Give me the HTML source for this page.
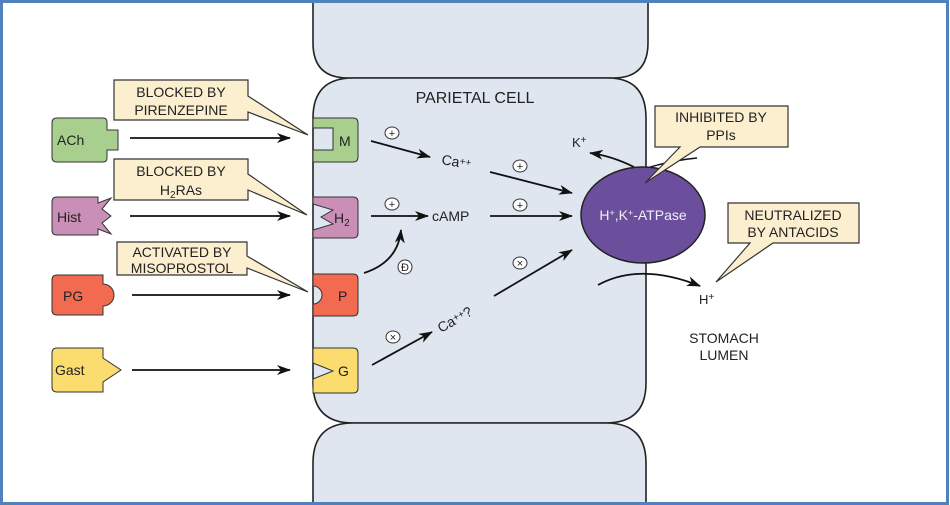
<!DOCTYPE html>
<html><head><meta charset="utf-8"><style>
html,body{margin:0;padding:0;background:#fff;}
svg{display:block;}
text{font-family:"Liberation Sans",Arial,sans-serif;fill:#222;}
</style></head><body>
<svg width="950" height="505" viewBox="0 0 950 505" xmlns="http://www.w3.org/2000/svg">
<defs>
<marker id="ah" markerWidth="14" markerHeight="10" refX="13" refY="5" orient="auto" markerUnits="userSpaceOnUse">
<path d="M0,0 L14,5 L0,10 L4,5 Z" fill="#111"/></marker>
</defs>
<rect x="0" y="0" width="950" height="505" fill="#fff"/>
<!-- cells -->
<path d="M313,-10 L313,43 Q313,78 348,78 L613,78 Q648,78 648,43 L648,-10 Z" fill="#dfe6f0" stroke="#222" stroke-width="1.6"/>
<path d="M353,78 L608,78 Q646,78 646,118 L646,383 Q646,423 606,423 L353,423 Q313,423 313,383 L313,118 Q313,78 353,78 Z" fill="#dfe6f0" stroke="#222" stroke-width="1.6"/>
<path d="M353,423 L606,423 Q646,423 646,463 L646,515 L313,515 L313,463 Q313,423 353,423 Z" fill="#dfe6f0" stroke="#222" stroke-width="1.6"/>
<text x="475" y="103" font-size="16" text-anchor="middle">PARIETAL CELL</text>

<!-- receptors -->
<path d="M313,118 h40 q5,0 5,5 v34 q0,5 -5,5 h-40 v-12 h20 v-22 h-20 Z" fill="#a9cf8e" stroke="#333" stroke-width="1"/>
<text x="339" y="146" font-size="14">M</text>
<path d="M313,197 h40 q5,0 5,5 v31 q0,5 -5,5 h-40 v-8 l20,-6 l-12,-7 l12,-7 l-20,-6 Z" fill="#c98fb6" stroke="#333" stroke-width="1"/>
<text x="334" y="223" font-size="14">H<tspan font-size="10" dy="3">2</tspan></text>
<path d="M313,274 h40 q5,0 5,5 v32 q0,5 -5,5 h-40 v-12 a9,9 0 0 0 0,-18 Z" fill="#f26a4f" stroke="#333" stroke-width="1"/>
<text x="338" y="301" font-size="14">P</text>
<path d="M313,348 h40 q5,0 5,5 v35 q0,5 -5,5 h-40 v-14 l20,-8 l-20,-8 Z" fill="#fbdc6f" stroke="#333" stroke-width="1"/>
<text x="338" y="376" font-size="14">G</text>

<!-- ligands -->
<path d="M57,118 h46 q4,0 4,4 v8 h11 v20 h-11 v8 q0,4 -4,4 h-46 q-5,0 -5,-5 v-34 q0,-5 5,-5 Z" fill="#a9cf8e" stroke="#333" stroke-width="1"/>
<text x="57" y="145" font-size="14">ACh</text>
<path d="M57,197 h41 v6 l13,-5 l-9,11 l9,7 l-9,7 l9,11 l-13,-5 v6 h-41 q-5,0 -5,-5 v-28 q0,-5 5,-5 Z" fill="#c98fb6" stroke="#333" stroke-width="1"/>
<text x="57" y="222" font-size="14">Hist</text>
<path d="M57,275 h46 v9 a11,11 0 0 1 0,22 v9 h-46 q-5,0 -5,-5 v-30 q0,-5 5,-5 Z" fill="#f26a4f" stroke="#333" stroke-width="1"/>
<text x="63" y="301" font-size="14">PG</text>
<path d="M57,348 h46 v10 l18,12 l-18,12 v10 h-46 q-5,0 -5,-5 v-34 q0,-5 5,-5 Z" fill="#fbdc6f" stroke="#333" stroke-width="1"/>
<text x="55" y="375" font-size="14">Gast</text>

<!-- ligand arrows -->
<g stroke="#111" stroke-width="1.8" fill="none" marker-end="url(#ah)">
<line x1="130" y1="138" x2="290" y2="138"/>
<line x1="130" y1="216" x2="290" y2="216"/>
<line x1="132" y1="295" x2="290" y2="295"/>
<line x1="132" y1="370" x2="290" y2="370"/>
</g>

<!-- callouts -->
<g fill="#fcefd0" stroke="#333" stroke-width="1.2">
<path d="M114,80 H248 V96 L308,135 L248,112 V120 H114 Z"/>
<path d="M114,159 H248 V174 L307,215 L248,190 V200 H114 Z"/>
<path d="M117,242 H247 V256 L308,292 L247,268 V275 H117 Z"/>
</g>
<g font-size="14" text-anchor="middle">
<text x="181" y="97">BLOCKED BY</text><text x="181" y="115">PIRENZEPINE</text>
<text x="181" y="176">BLOCKED BY</text><text x="181" y="195">H<tspan font-size="10" dy="3">2</tspan><tspan dy="-3">RAs</tspan></text>
<text x="182" y="257">ACTIVATED BY</text><text x="182" y="273">MISOPROSTOL</text>
</g>

<!-- intracellular -->
<g stroke="#111" stroke-width="1.8" fill="none" marker-end="url(#ah)">
<line x1="371" y1="141" x2="430" y2="157"/>
<line x1="490" y1="172" x2="572" y2="193"/>
<line x1="371" y1="216" x2="428" y2="216"/>
<line x1="490" y1="216" x2="572" y2="216"/>
<path d="M364,273 Q398,262 401,230"/>
<line x1="372" y1="365" x2="432" y2="332"/>
<line x1="494" y1="296" x2="572" y2="250"/>
</g>
<text x="441" y="164" font-size="14" transform="rotate(10 441 164)">Ca<tspan font-size="10" dy="-3">++</tspan></text>
<text x="432" y="221" font-size="14">cAMP</text>
<text x="441" y="333" font-size="14" transform="rotate(-30 441 333)">Ca<tspan font-size="10" dy="-3">++</tspan><tspan dy="3">?</tspan></text>
<g fill="#fff" stroke="#333" stroke-width="1">
<ellipse cx="392" cy="133" rx="7" ry="6"/><ellipse cx="520" cy="166" rx="7" ry="6"/>
<ellipse cx="392" cy="204" rx="7" ry="6"/><ellipse cx="520" cy="205" rx="7" ry="6"/>
<ellipse cx="405" cy="267" rx="7" ry="7"/><ellipse cx="520" cy="263" rx="7" ry="6"/>
<ellipse cx="393" cy="337" rx="7" ry="6"/>
</g>
<g font-size="11" text-anchor="middle">
<text x="392" y="137">+</text><text x="520" y="170">+</text><text x="392" y="208">+</text>
<text x="520" y="209">+</text><text x="405" y="271">Đ</text><text x="520" y="267">×</text><text x="393" y="341">×</text>
</g>

<!-- pump -->
<path d="M634,167 Q612,156 590,153" stroke="#111" stroke-width="1.8" fill="none" marker-end="url(#ah)"/>
<path d="M650,167 Q675,160 697,158" stroke="#111" stroke-width="1.4" fill="none"/>
<text x="572" y="147" font-size="13">K<tspan font-size="10" dy="-4">+</tspan></text>
<path d="M598,285 Q640,262 700,286" stroke="#111" stroke-width="1.8" fill="none" marker-end="url(#ah)"/>
<text x="699" y="304" font-size="13">H<tspan font-size="10" dy="-4">+</tspan></text>
<ellipse cx="643" cy="215" rx="62" ry="48" fill="#6b4f9c" stroke="#222" stroke-width="1.5"/>
<text x="643" y="220" font-size="14" text-anchor="middle" style="fill:#f0eef7">H<tspan font-size="9" dy="-4">+</tspan><tspan dy="4">,K</tspan><tspan font-size="9" dy="-4">+</tspan><tspan dy="4">-ATPase</tspan></text>

<g fill="#fcefd0" stroke="#333" stroke-width="1.2">
<path d="M655,106 H788 V147 H700 L645,183 L680,147 H655 Z"/>
<path d="M728,203 H859 V243 H773 L716,282 L750,243 H728 Z"/>
</g>
<g font-size="14" text-anchor="middle">
<text x="721" y="122">INHIBITED BY</text><text x="721" y="140">PPIs</text>
<text x="793" y="220">NEUTRALIZED</text><text x="793" y="237">BY ANTACIDS</text>
<text x="724" y="343">STOMACH</text><text x="724" y="360">LUMEN</text>
</g>

<!-- frame -->
<rect x="1.5" y="1.5" width="946" height="502" fill="none" stroke="#4f81bd" stroke-width="3"/>
</svg>
</body></html>
